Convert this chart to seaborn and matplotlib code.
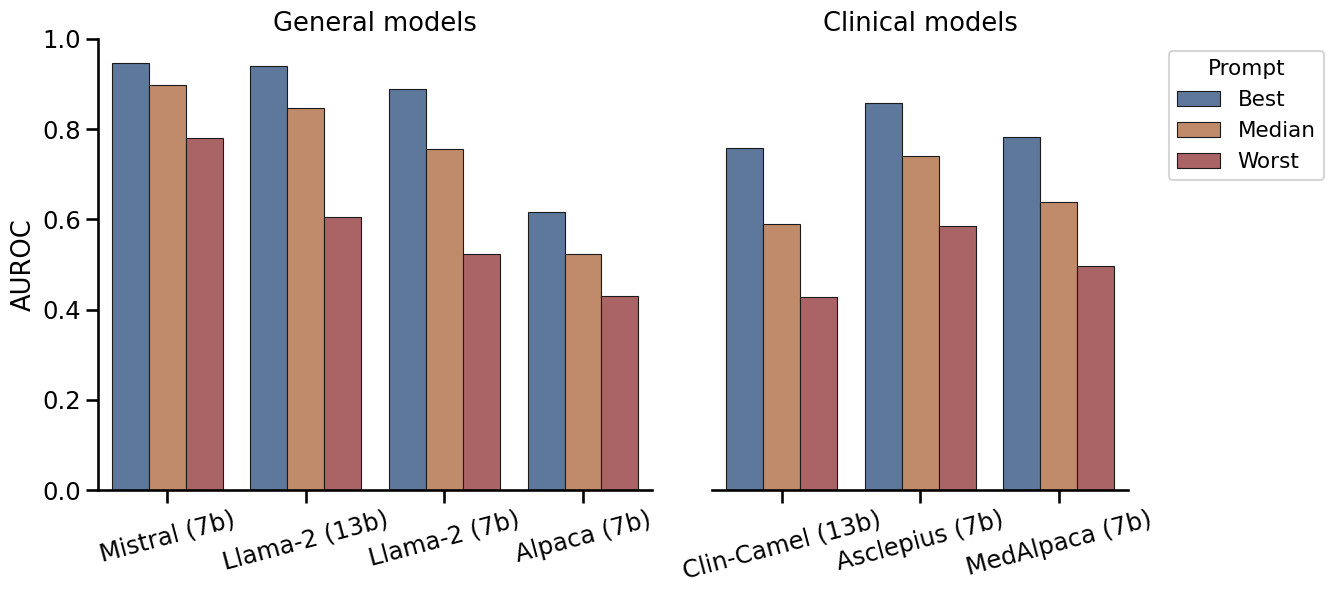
import numpy as np
import pandas as pd
import seaborn as sns
import matplotlib
matplotlib.use("Agg")
import matplotlib.pyplot as plt

prompts = ["Best", "Median", "Worst"]
general_models = ["Mistral (7b)", "Llama-2 (13b)", "Llama-2 (7b)", "Alpaca (7b)"]
general_best = [0.947, 0.940, 0.889, 0.617]
general_median = [0.898, 0.847, 0.755, 0.523]
general_worst = [0.780, 0.605, 0.523, 0.430]

clinical_models = ["Clin-Camel (13b)", "Asclepius (7b)", "MedAlpaca (7b)"]
clinical_best = [0.758, 0.858, 0.783]
clinical_median = [0.589, 0.741, 0.639]
clinical_worst = [0.428, 0.586, 0.497]

palette = ["#5e789b", "#c08b6b", "#ab6466"]


def make_df(models, best, median, worst):
    rows = []
    for vals, p in zip([best, median, worst], prompts):
        for m, v in zip(models, vals):
            rows.append({"Model": m, "Prompt": p, "AUROC": v})
    return pd.DataFrame(rows)


df_g = make_df(general_models, general_best, general_median, general_worst)
df_c = make_df(clinical_models, clinical_best, clinical_median, clinical_worst)

sns.set_theme(context="talk", style="ticks")
plt.rcParams["font.family"] = ["DejaVu Sans"]
for k in ["text.color", "axes.labelcolor", "xtick.color", "ytick.color", "axes.edgecolor"]:
    plt.rcParams[k] = "black"

fig = plt.figure(figsize=(13.28, 5.95), dpi=100)
gs = fig.add_gridspec(1, 2, width_ratios=[4, 3], left=98 / 1328, right=1128 / 1328,
                      top=1 - 39 / 595, bottom=1 - 490 / 595, wspace=60 / 485)
ax1 = fig.add_subplot(gs[0])
ax2 = fig.add_subplot(gs[1], sharey=ax1)

for ax, df, title in [(ax1, df_g, "General models"), (ax2, df_c, "Clinical models")]:
    sns.barplot(data=df, x="Model", y="AUROC", hue="Prompt", hue_order=prompts,
                palette=palette, saturation=1, edgecolor="0.1", linewidth=0.8, ax=ax)
    ax.set_title(title, fontsize=18.5)
    ax.set_xlabel("")
    ax.tick_params(axis="x", rotation=15, labelsize=17.5)
    ax.tick_params(axis="y", labelsize=17.5)
    ax.get_legend().remove()
    for lbl in ax.get_xticklabels():
        lbl.set_ha("center")

ax1.set_ylim(0, 1.0)
ax1.set_ylabel("AUROC", fontsize=18.5)
ax2.set_ylabel("")
sns.despine(ax=ax1)
sns.despine(ax=ax2, left=True)
ax2.tick_params(axis="y", left=False, labelleft=False)

handles, labels = ax1.get_legend_handles_labels()
fig.legend(handles, labels, title="Prompt", loc="upper left",
           bbox_to_anchor=(1158 / 1328, 1 - 40 / 595), fontsize=15.5, title_fontsize=15.5)

fig.savefig("out.png", dpi=100)
